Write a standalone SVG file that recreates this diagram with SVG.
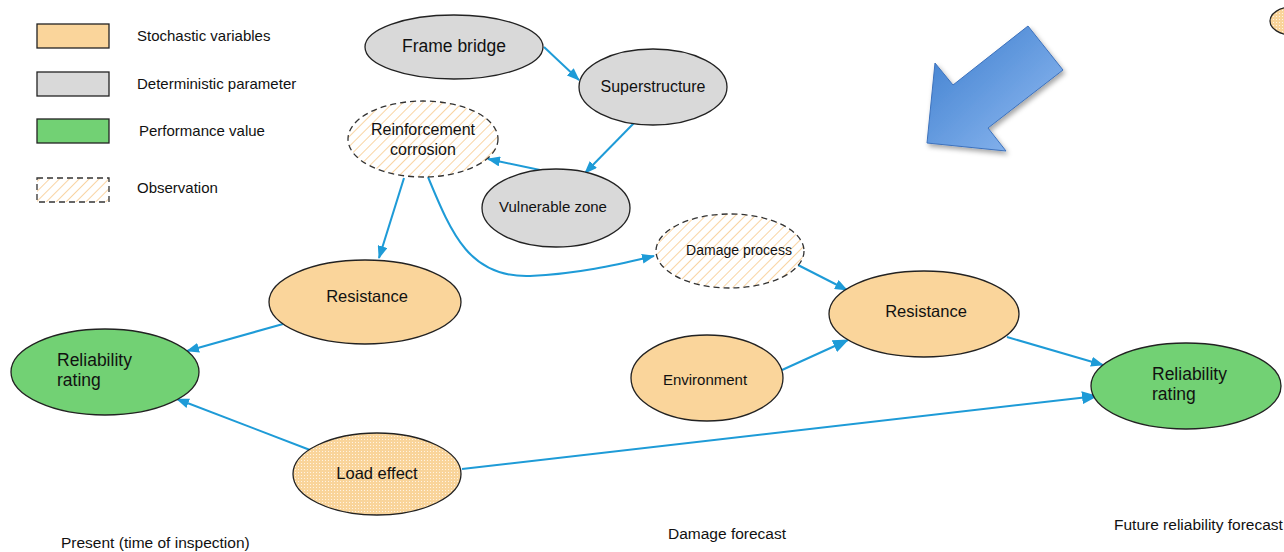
<svg xmlns="http://www.w3.org/2000/svg" width="1284" height="552" viewBox="0 0 1284 552">
<style>
text{font-family:"Liberation Sans",Arial,sans-serif;fill:#111}
.sto{fill:#fad59b;stroke:#222;stroke-width:1.3}
.det{fill:#d9d9d9;stroke:#222;stroke-width:1.3}
.perf{fill:#72d174;stroke:#222;stroke-width:1.3}
.obs{fill:url(#hatch);stroke:#333;stroke-width:1.3;stroke-dasharray:6 4}
.load{fill:url(#dots);stroke:#222;stroke-width:1.3}
.conn{fill:none;stroke:#1e9bd7;stroke-width:2;marker-end:url(#ah)}
.big{marker-end:url(#ahb)}
.lg{font-size:15px}
.bl{font-size:15.5px}
</style>
<defs>
<pattern id="hatch" patternUnits="userSpaceOnUse" width="7" height="7" patternTransform="rotate(45)">
<rect width="7" height="7" fill="#fff"/>
<line x1="0" y1="0" x2="0" y2="7" stroke="#f8c98c" stroke-width="1.6"/>
</pattern>
<pattern id="dots" patternUnits="userSpaceOnUse" width="3" height="3">
<rect width="3" height="3" fill="#f9d49a"/>
<rect x="1" y="1" width="1" height="1" fill="#fff3e2"/>
</pattern>
<marker id="ah" markerUnits="userSpaceOnUse" markerWidth="14" markerHeight="10" refX="12" refY="5" orient="auto">
<path d="M0,0 L13,5 L0,10 z" fill="#1e9bd7"/>
</marker>
<marker id="ahb" markerUnits="userSpaceOnUse" markerWidth="17" markerHeight="13" refX="15" refY="6.5" orient="auto">
<path d="M0,0 L16,6.5 L0,13 z" fill="#1e9bd7"/>
</marker>
<linearGradient id="bg" x1="0" y1="0" x2="1" y2="1">
<stop offset="0" stop-color="#3a7ccd"/>
<stop offset="1" stop-color="#94bdf3"/>
</linearGradient>
<filter id="sh" x="-20%" y="-20%" width="150%" height="150%">
<feDropShadow dx="2" dy="3" stdDeviation="2.5" flood-color="#000" flood-opacity="0.35"/>
</filter>
</defs>
<rect width="1284" height="552" fill="#fff"/>

<g id="legend">
<rect x="37" y="24" width="72" height="24" class="sto"/>
<text x="137" y="41" class="lg">Stochastic variables</text>
<rect x="37" y="72" width="72" height="24" class="det"/>
<text x="137" y="89" class="lg">Deterministic parameter</text>
<rect x="37" y="119" width="72" height="24" class="perf"/>
<text x="139" y="136" class="lg">Performance value</text>
<rect x="37" y="178" width="72" height="24" class="obs"/>
<text x="137" y="193" class="lg">Observation</text>
</g>

<g id="big-arrow">
<polygon points="1028,26 1063,70 988,128 1006,151 927,143 935,63 953,85" fill="url(#bg)" stroke="#3d72bd" stroke-width="1" filter="url(#sh)"/>
</g>

<g id="connectors">
<path class="conn" d="M544,47 L579,80"/>
<path class="conn" d="M634,123 L585,173"/>
<path class="conn" d="M540,170 L488,159"/>
<path class="conn" d="M404,178 L379,258"/>
<path class="conn" d="M428,177 C452,235 470,278 530,276 C580,274 620,264 654,256"/>
<path class="conn" d="M798,265 L847,290"/>
<path class="conn big" d="M782,370 L848,340"/>
<path class="conn" d="M1007,337 L1103,365"/>
<path class="conn big" d="M462,469 L1097,396"/>
<path class="conn" d="M283,324 L187,351"/>
<path class="conn" d="M310,450 L177,399"/>
</g>

<g id="frame-bridge">
<ellipse cx="454" cy="47" rx="89" ry="32" class="det"/>
<text x="454" y="52" font-size="17.5" text-anchor="middle">Frame bridge</text>
</g>
<g id="superstructure">
<ellipse cx="653" cy="87" rx="74" ry="38" class="det"/>
<text x="653" y="92" font-size="16" text-anchor="middle">Superstructure</text>
</g>
<g id="reinforcement-corrosion">
<ellipse cx="423" cy="139" rx="75" ry="38" class="obs"/>
<text x="423" y="135" font-size="16" text-anchor="middle">Reinforcement</text>
<text x="423" y="155" font-size="16" text-anchor="middle">corrosion</text>
</g>
<g id="vulnerable-zone">
<ellipse cx="556" cy="208" rx="74" ry="39" class="det"/>
<text x="553" y="212" font-size="15" text-anchor="middle">Vulnerable zone</text>
</g>
<g id="damage-process">
<ellipse cx="730" cy="251" rx="74" ry="37" class="obs"/>
<text x="739" y="255" font-size="14" text-anchor="middle">Damage process</text>
</g>
<g id="resistance-future">
<ellipse cx="924" cy="314" rx="95" ry="43" class="sto"/>
<text x="926" y="317" font-size="16.5" text-anchor="middle">Resistance</text>
</g>
<g id="environment">
<ellipse cx="707" cy="378" rx="76" ry="43" class="sto"/>
<text x="705" y="385" font-size="15" text-anchor="middle">Environment</text>
</g>
<g id="resistance-present">
<ellipse cx="365" cy="302" rx="96" ry="42" class="sto"/>
<text x="367" y="302" font-size="16.5" text-anchor="middle">Resistance</text>
</g>
<g id="reliability-present">
<ellipse cx="105" cy="372" rx="94" ry="43" class="perf"/>
<text x="57" y="366" font-size="17.5">Reliability</text>
<text x="57" y="386" font-size="17.5">rating</text>
</g>
<g id="load-effect">
<ellipse cx="377" cy="474" rx="84" ry="41" class="load"/>
<text x="377" y="479" font-size="16.5" text-anchor="middle">Load effect</text>
</g>
<g id="reliability-future">
<ellipse cx="1186" cy="386" rx="95" ry="43" class="perf"/>
<text x="1152" y="380" font-size="17.5">Reliability</text>
<text x="1152" y="400" font-size="17.5">rating</text>
</g>
<g id="partial-node">
<ellipse cx="1292" cy="21" rx="22" ry="14" class="load"/>
</g>

<g id="labels">
<text x="61" y="548" class="bl">Present (time of inspection)</text>
<text x="668" y="539" class="bl">Damage forecast</text>
<text x="1114" y="530" class="bl">Future reliability forecast</text>
</g>
</svg>
